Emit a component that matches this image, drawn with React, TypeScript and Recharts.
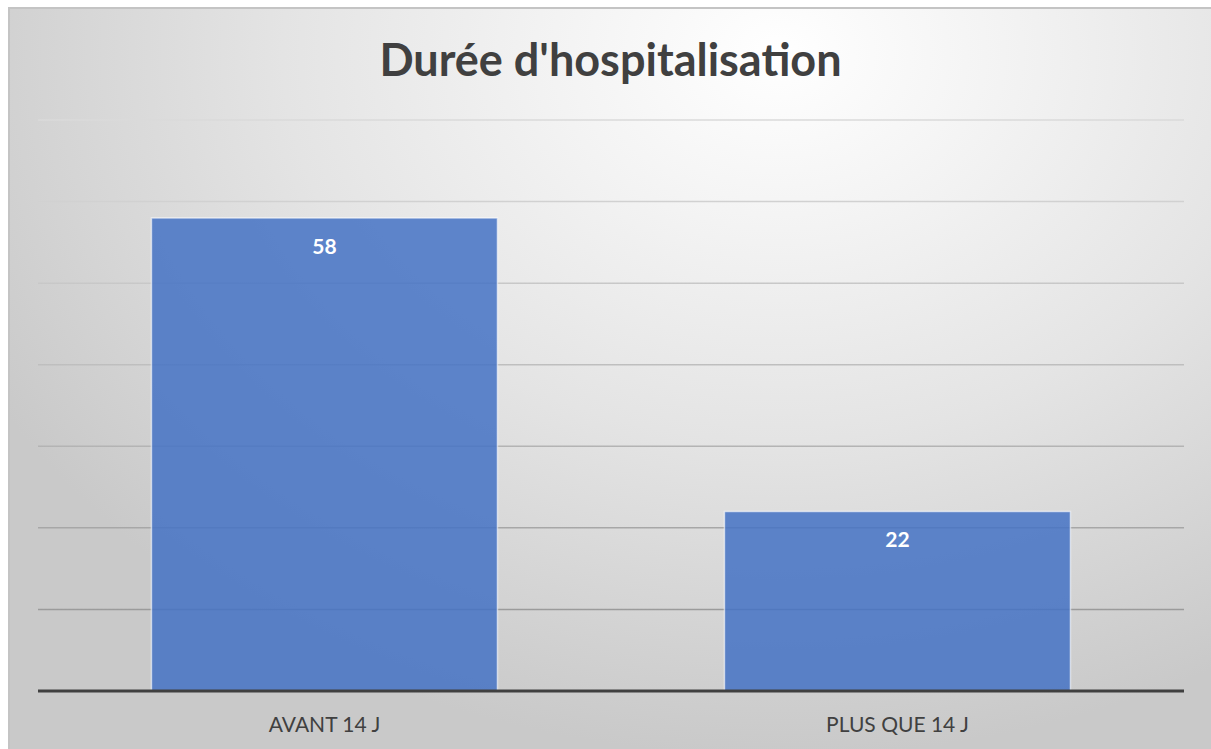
import { Bar, BarChart, CartesianGrid, LabelList, XAxis, YAxis } from 'recharts'

const categories = ['AVANT 14 J', 'PLUS QUE 14 J']
const durations = [58, 22]
const yTicks = [0, 10, 20, 30, 40, 50, 60, 70]

const data = categories.map((name, i) => ({ name, value: durations[i] }))

export default function App() {
  return (
    <div
      style={{
        position: 'absolute',
        top: 7,
        left: 8,
        width: 1203,
        height: 742,
        boxSizing: 'border-box',
        borderTop: '2px solid #c4c4c4',
        borderLeft: '2px solid #c4c4c4',
        background:
          'radial-gradient(ellipse 75% 95% at 64% 6%, #ffffff 0%, #f3f3f3 25%, #e4e4e4 55%, #d2d2d2 85%, #c9c9c9 100%)',
        fontFamily: 'Lato, sans-serif',
      }}
    >
      <div
        style={{
          position: 'absolute',
          top: 23,
          left: 0,
          width: '100%',
          textAlign: 'center',
          fontSize: 45,
          fontWeight: 700,
          color: '#404040',
        }}
      >
        Durée d'hospitalisation
      </div>
      <BarChart
        width={1201}
        height={740}
        data={data}
        margin={{ top: 111, right: 27, left: 28, bottom: 28 }}
        barCategoryGap="19.8%"
        style={{ position: 'absolute', top: 0, left: 0 }}
      >
        <defs>
          <linearGradient id="gridGrad" gradientUnits="userSpaceOnUse" x1="0" y1="111" x2="0" y2="683">
            <stop offset="0%" stopColor="#dadada" />
            <stop offset="50%" stopColor="#bababa" />
            <stop offset="100%" stopColor="#8e8e8e" />
          </linearGradient>
        </defs>
        <CartesianGrid vertical={false} stroke="url(#gridGrad)" strokeWidth={1.5} />
        <YAxis hide domain={[0, 70]} ticks={yTicks} />
        <XAxis
          dataKey="name"
          height={30}
          tickLine={false}
          axisLine={{ stroke: '#404040', strokeWidth: 3 }}
          tick={{ fontSize: 21, fill: '#404040', fontFamily: 'Lato, sans-serif' }}
          tickMargin={20}
        />
        <Bar
          dataKey="value"
          fill="#4472c4"
          fillOpacity={0.85}
          stroke="#ffffff"
          strokeOpacity={0.6}
          strokeWidth={1.5}
          isAnimationActive={false}
        >
          <LabelList
            dataKey="value"
            position="insideTop"
            offset={21}
            fill="#ffffff"
            fontSize={21}
            fontWeight={700}
            fontFamily="Lato, sans-serif"
          />
        </Bar>
      </BarChart>
    </div>
  )
}
